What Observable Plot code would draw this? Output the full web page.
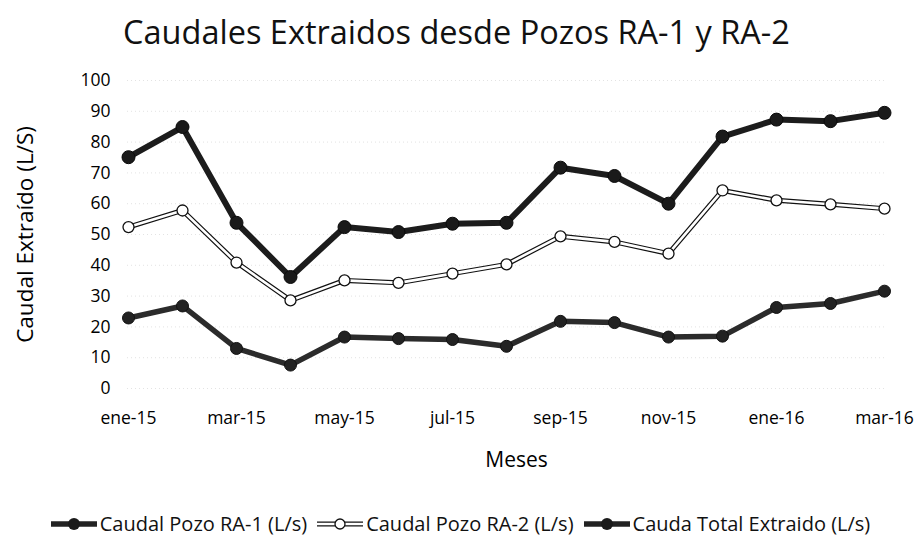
<!DOCTYPE html>
<html>
<head>
<meta charset="utf-8">
<script src="https://cdn.jsdelivr.net/npm/d3@7"></script>
<script src="https://cdn.jsdelivr.net/npm/@observablehq/plot@0.6"></script>
<style>
  html, body { margin: 0; padding: 0; background: #fff; }
  body { width: 919px; height: 537px; overflow: hidden; font-family: "Open Sans", Lato, sans-serif; color: #111; }
  #title { height: 62px; display: flex; align-items: center; justify-content: center; font-size: 32.5px; color: #111; padding-right: 6px; box-sizing: border-box; }
  #legend { display: flex; justify-content: center; align-items: center; gap: 8px; font-size: 20px; line-height: 20px; height: 20px; padding-top: 41px; color: #111; }
  #legend .item { display: flex; align-items: center; height: 20px; }
  #legend svg { margin-right: 1px; }
</style>
</head>
<body>
<div id="title">Caudales Extraidos desde Pozos RA-1 y RA-2</div>
<div id="chart"></div>
<div id="legend"></div>
<script>
const months = ["ene-15","feb-15","mar-15","abr-15","may-15","jun-15","jul-15","ago-15","sep-15","oct-15","nov-15","dic-15","ene-16","feb-16","mar-16"];
const tickMonths = ["ene-15","mar-15","may-15","jul-15","sep-15","nov-15","ene-16","mar-16"];
const yTicks = [0,10,20,30,40,50,60,70,80,90,100];
const ra1 = [22.9,26.8,13.0,7.6,16.7,16.2,15.9,13.7,21.8,21.4,16.7,17.0,26.3,27.6,31.6];
const ra2 = [52.4,57.8,40.9,28.6,35.1,34.3,37.3,40.3,49.4,47.6,43.8,64.3,61.1,59.8,58.4];
const total = [75.1,84.9,53.8,36.2,52.4,50.8,53.5,53.8,71.7,69.0,60.0,81.8,87.3,86.8,89.5];
const seriesNames = ["Caudal Pozo RA-1 (L/s)","Caudal Pozo RA-2 (L/s)","Cauda Total Extraido (L/s)"];

const d1 = months.map((m,i)=>({m, v: ra1[i]}));
const d2 = months.map((m,i)=>({m, v: ra2[i]}));
const dt = months.map((m,i)=>({m, v: total[i]}));

const plot = Plot.plot({
  width: 919,
  height: 411,
  marginLeft: 127,
  marginRight: 34,
  marginTop: 18,
  marginBottom: 85,
  style: { fontFamily: "'Open Sans', Lato, sans-serif", color: "#000", background: "#fff" },
  x: { type: "point", domain: months, padding: 0 },
  y: { domain: [0, 100] },
  marks: [
    Plot.ruleY(yTicks, { stroke: "#d0d0d0", strokeWidth: 1, strokeDasharray: "1,3", strokeOpacity: 0.6 }),
    Plot.axisY({ ticks: yTicks, tickSize: 0, tickPadding: 17, fontSize: 17.5, label: "Caudal Extraído (L/S)", labelAnchor: "center", labelArrow: "none", labelOffset: 110 }),
    Plot.axisX({ ticks: tickMonths, tickSize: 0, tickPadding: 23, fontSize: 17.5, label: "Meses", labelAnchor: "center", labelArrow: "none", labelOffset: 78 }),
    // RA-1
    Plot.line(d1, { x: "m", y: "v", stroke: "#2b2b2b", strokeWidth: 5.5 }),
    Plot.dot(d1, { x: "m", y: "v", r: 6, fill: "#222", stroke: "#111", strokeWidth: 1 }),
    // RA-2 (white line outlined)
    Plot.line(d2, { x: "m", y: "v", stroke: "#111", strokeWidth: 5 }),
    Plot.line(d2, { x: "m", y: "v", stroke: "#fff", strokeWidth: 2.6 }),
    Plot.dot(d2, { x: "m", y: "v", r: 5.5, fill: "#fff", stroke: "#111", strokeWidth: 1.3 }),
    // Total
    Plot.line(dt, { x: "m", y: "v", stroke: "#1c1c1c", strokeWidth: 6 }),
    Plot.dot(dt, { x: "m", y: "v", r: 6.5, fill: "#1a1a1a", stroke: "#0a0a0a", strokeWidth: 1 })
  ]
});
plot.querySelectorAll("[aria-label='y-axis label'] text").forEach(t => t.setAttribute("font-size", "22.5"));
plot.querySelectorAll("[aria-label='x-axis label'] text").forEach(t => { t.setAttribute("font-size", "21"); t.setAttribute("dx", "10"); });
document.getElementById("chart").appendChild(plot);

const legend = document.getElementById("legend");
const swatch = (kind) => {
  const ns = "http://www.w3.org/2000/svg";
  const s = document.createElementNS(ns, "svg");
  s.setAttribute("width", "50"); s.setAttribute("height", "16");
  if (kind === 1) {
    s.innerHTML = '<line x1="2" y1="8" x2="48" y2="8" stroke="#111" stroke-width="5"/><line x1="2" y1="8" x2="48" y2="8" stroke="#fff" stroke-width="2.6"/><circle cx="25" cy="8" r="5" fill="#fff" stroke="#111" stroke-width="1.3"/>';
  } else {
    s.innerHTML = '<line x1="2" y1="8" x2="48" y2="8" stroke="#222" stroke-width="5.5"/><circle cx="25" cy="8" r="6" fill="#1a1a1a"/>';
  }
  return s;
};
seriesNames.forEach((name, i) => {
  const it = document.createElement("div");
  it.className = "item";
  it.appendChild(swatch(i));
  const sp = document.createElement("span");
  sp.textContent = name;
  it.appendChild(sp);
  legend.appendChild(it);
});
</script>
</body>
</html>
